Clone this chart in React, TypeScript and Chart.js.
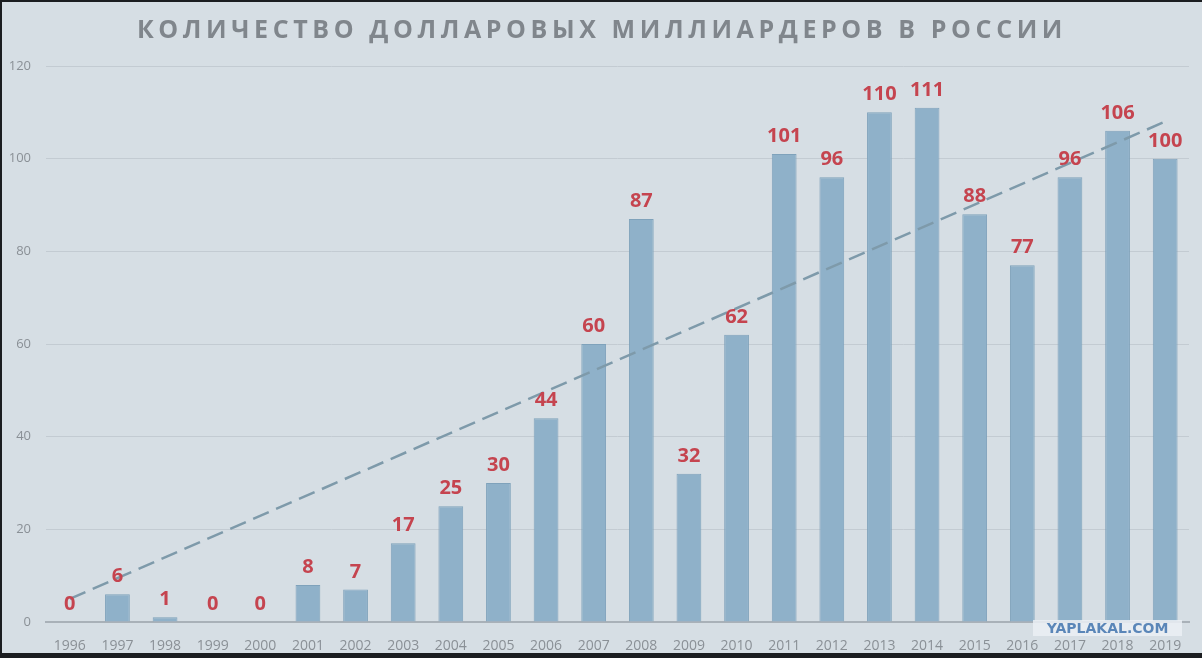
import { useEffect, useRef } from "react";
import Chart from "chart.js/auto";

// Years on the category axis and the bar values
const YEARS = [
  "1996", "1997", "1998", "1999", "2000", "2001", "2002", "2003",
  "2004", "2005", "2006", "2007", "2008", "2009", "2010", "2011",
  "2012", "2013", "2014", "2015", "2016", "2017", "2018", "2019",
];
const BILLIONAIRES = [
  0, 6, 1, 0, 0, 8, 7, 17, 25, 30, 44, 60, 87, 32, 62, 101, 96, 110, 111, 88,
  77, 96, 106, 100,
];
// dashed trend line: value at the first year and at the last year
const TREND = [5, 108];
const Y_TICKS = [0, 20, 40, 60, 80, 100, 120];

const BG = "#d6dee4";
const BAR_COLOR = "#8fb1c9";
const LABEL_RED = "#c5444f";

const valueLabels = {
  id: "valueLabels",
  afterDatasetsDraw(chart: Chart) {
    const meta = chart.getDatasetMeta(0);
    const ctx = chart.ctx;
    ctx.save();
    ctx.font = "bold 20px 'Open Sans', 'DejaVu Sans', sans-serif";
    ctx.fillStyle = LABEL_RED;
    ctx.textAlign = "center";
    ctx.textBaseline = "alphabetic";
    meta.data.forEach((bar: any, i: number) => {
      ctx.fillText(String(BILLIONAIRES[i]), bar.x, bar.y - 12);
    });
    ctx.restore();
  },
};

export default function App() {
  const canvasRef = useRef<HTMLCanvasElement>(null);

  useEffect(() => {
    if (!canvasRef.current) return;
    const trendData = YEARS.map((_, i) =>
      i === 0 ? TREND[0] : i === YEARS.length - 1 ? TREND[1] : null
    );

    const chart = new Chart(canvasRef.current, {
      type: "bar",
      data: {
        labels: YEARS,
        datasets: [
          {
            type: "bar",
            data: BILLIONAIRES,
            backgroundColor: BAR_COLOR,
            borderColor: "#7fa2bb",
            borderWidth: 1,
            barPercentage: 0.52,
            categoryPercentage: 1,
            order: 1,
          },
          {
            type: "line",
            data: trendData,
            borderColor: "#7e9aaa",
            borderWidth: 2.5,
            borderDash: [17, 8],
            pointRadius: 0,
            spanGaps: true,
            fill: false,
            order: 0,
          } as any,
        ],
      },
      options: {
        animation: false,
        responsive: false,
        maintainAspectRatio: false,
        layout: { padding: { top: 64, right: 13, bottom: 0, left: 0 } },
        plugins: {
          legend: { display: false },
          tooltip: { enabled: false },
          title: { display: false },
        },
        scales: {
          x: {
            grid: { display: false },
            border: { display: true, color: "#a9b1b8", width: 2 },
            ticks: {
              color: "#8a9096",
              font: { family: "'Open Sans', sans-serif", size: 14 },
              padding: 8,
              maxRotation: 0,
              autoSkip: false,
            },
            afterFit(scale: any) {
              scale.height = 31;
            },
          },
          y: {
            min: 0,
            max: 120,
            afterBuildTicks(scale: any) {
              scale.ticks = Y_TICKS.map((v) => ({ value: v }));
            },
            grid: { color: "#c3cbd2", lineWidth: 1, drawTicks: false },
            border: { display: false },
            ticks: {
              color: "#8a9096",
              font: { family: "'Open Sans', sans-serif", size: 13 },
              padding: 15,
            },
            afterFit(scale: any) {
              scale.width = 44;
            },
          },
        },
      },
      plugins: [valueLabels],
    });

    return () => chart.destroy();
  }, []);

  return (
    <div
      style={{
        position: "fixed",
        left: 0,
        top: 0,
        width: 1202,
        height: 658,
        background: "#1b1d20",
      }}
    >
      <div
        style={{
          position: "absolute",
          left: 2,
          top: 2,
          width: 1200,
          height: 651,
          background: BG,
        }}
      >
        <canvas ref={canvasRef} width={1200} height={651} />
        <div
          style={{
            position: "absolute",
            left: 0,
            top: 9,
            width: 1200,
            textAlign: "center",
            fontFamily: "'Open Sans', sans-serif",
            fontWeight: 700,
            fontSize: 25,
            letterSpacing: 4.6,
            color: "#80868c",
            whiteSpace: "nowrap",
          }}
        >
          КОЛИЧЕСТВО ДОЛЛАРОВЫХ МИЛЛИАРДЕРОВ В РОССИИ
        </div>
        <div
          style={{
            position: "absolute",
            left: 1031,
            top: 618,
            width: 149,
            height: 16,
            lineHeight: "16px",
            background: "rgba(235,240,244,0.85)",
            textAlign: "center",
            fontFamily: "'DejaVu Sans', sans-serif",
            fontWeight: 700,
            fontSize: 14,
            color: "#5a86b8",
          }}
        >
          YAPLAKAL.COM
        </div>
      </div>
    </div>
  );
}
